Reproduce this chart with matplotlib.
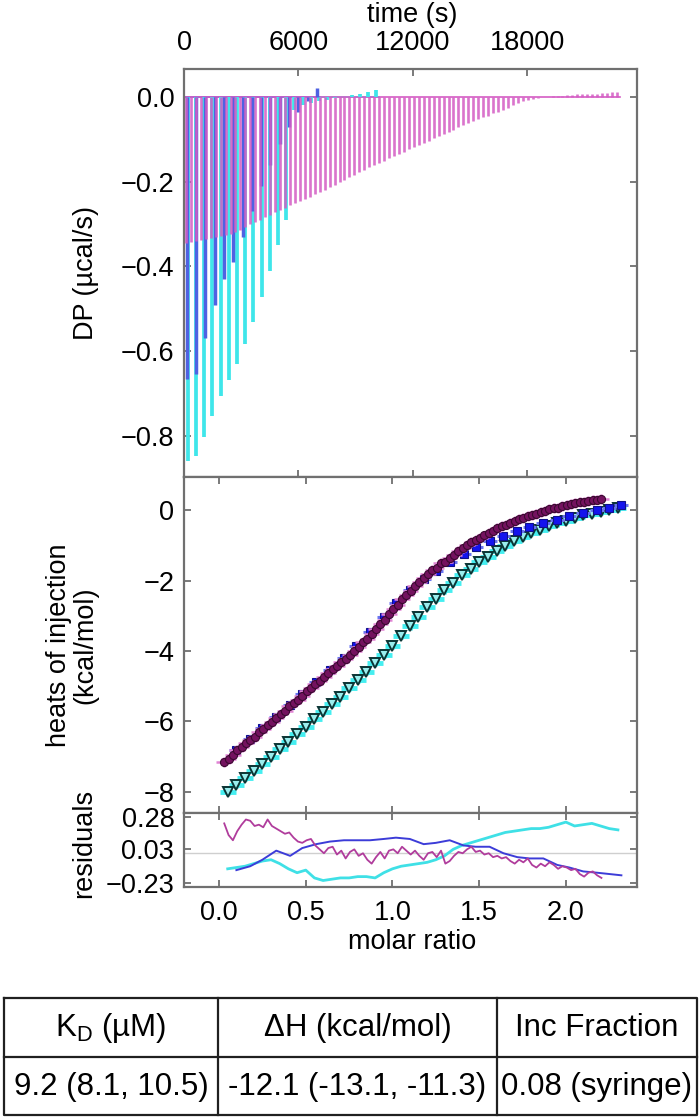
import matplotlib
matplotlib.use('Agg')
import matplotlib.pyplot as plt
import numpy as np

plt.rcParams['font.family'] = ['Liberation Sans', 'DejaVu Sans']
plt.rcParams['mathtext.fontset'] = 'custom'
plt.rcParams['mathtext.rm'] = 'Liberation Sans'
plt.rcParams['axes.unicode_minus'] = True

# ---------------- raw thermograms (time in s, DP in ucal/s) ----------------
mag_times = [100, 360, 620, 880, 1140, 1400, 1660, 1920, 2180, 2440, 2700, 2960, 3220, 3480,
             3740, 4000, 4260, 4520, 4780, 5040, 5300, 5560, 5820, 6080, 6340, 6600, 6860,
             7120, 7380, 7640, 7900, 8160, 8420, 8680, 8940, 9200, 9460, 9720, 9980, 10240,
             10500, 10760, 11020, 11280, 11540, 11800, 12060, 12320, 12580, 12840, 13100,
             13360, 13620, 13880, 14140, 14400, 14660, 14920, 15180, 15440, 15700, 15960,
             16220, 16480, 16740, 17000, 17260, 17520, 17780, 18040, 18300, 18560, 18820,
             19080, 19340, 19600, 19860, 20120, 20380, 20640, 20900, 21160, 21420, 21680,
             21940, 22200, 22460, 22720]
mag_dp = [-0.345, -0.343, -0.340, -0.338, -0.335, -0.333, -0.330, -0.328, -0.326, -0.324,
          -0.318, -0.313, -0.307, -0.301, -0.296, -0.290, -0.284, -0.278, -0.272, -0.267,
          -0.261, -0.255, -0.250, -0.245, -0.240, -0.235, -0.230, -0.225, -0.219, -0.213,
          -0.207, -0.201, -0.195, -0.190, -0.184, -0.178, -0.172, -0.166, -0.161, -0.155,
          -0.150, -0.145, -0.140, -0.134, -0.129, -0.124, -0.119, -0.113, -0.108, -0.103,
          -0.098, -0.093, -0.088, -0.083, -0.077, -0.072, -0.067, -0.062, -0.057, -0.053,
          -0.048, -0.044, -0.039, -0.035, -0.030, -0.025, -0.020, -0.014, -0.010, -0.007,
          -0.005, -0.003, -0.001, 0.000, 0.002, 0.003, 0.003, 0.004, 0.005, 0.006, 0.006,
          0.007, 0.007, 0.008, 0.009, 0.010, 0.011, 0.012]

blue_times = [150, 637, 1124, 1611, 2098, 2585, 3072, 3559, 4046, 4533, 5020, 5507, 5994,
              6481, 6968]
blue_dp = [-0.665, -0.655, -0.570, -0.490, -0.430, -0.390, -0.330, -0.270, -0.210, -0.160,
           -0.110, -0.070, -0.035, -0.010, 0.020]

cyan_times = [200, 630, 1060, 1490, 1920, 2350, 2780, 3210, 3640, 4070, 4500, 4930, 5360,
              5790, 6220, 6650, 7080, 7510, 7940, 8370, 8800, 9230, 9660, 10090]
cyan_dp = [-0.860, -0.848, -0.802, -0.752, -0.705, -0.668, -0.630, -0.582, -0.530, -0.472,
           -0.410, -0.350, -0.290, -0.030, -0.020, -0.014, -0.010, -0.006, -0.003, 0.000,
           0.004, 0.008, 0.012, 0.016]

# ---------------- integrated heats (molar ratio, kcal/mol) ----------------
mag_ratio = [0.030, 0.055, 0.080, 0.105, 0.130, 0.155, 0.180, 0.205, 0.230, 0.255, 0.280,
             0.305, 0.330, 0.355, 0.380, 0.405, 0.430, 0.455, 0.480, 0.505, 0.530, 0.555,
             0.580, 0.605, 0.630, 0.655, 0.680, 0.705, 0.730, 0.755, 0.780, 0.805, 0.830,
             0.855, 0.880, 0.905, 0.930, 0.955, 0.980, 1.005, 1.030, 1.055, 1.080, 1.105,
             1.130, 1.155, 1.180, 1.205, 1.230, 1.255, 1.280, 1.305, 1.330, 1.355, 1.380,
             1.405, 1.430, 1.455, 1.480, 1.505, 1.530, 1.555, 1.580, 1.605, 1.630, 1.655,
             1.680, 1.705, 1.730, 1.755, 1.780, 1.805, 1.830, 1.855, 1.880, 1.905, 1.930,
             1.955, 1.980, 2.005, 2.030, 2.055, 2.080, 2.105, 2.130, 2.155, 2.180, 2.205]
mag_heat = [-7.15, -7.08, -6.95, -6.82, -6.72, -6.61, -6.52, -6.43, -6.31, -6.22, -6.09,
            -6.01, -5.90, -5.80, -5.69, -5.57, -5.48, -5.38, -5.27, -5.14, -5.04, -4.95,
            -4.84, -4.74, -4.62, -4.51, -4.43, -4.30, -4.22, -4.10, -3.99, -3.89, -3.75,
            -3.65, -3.52, -3.37, -3.23, -3.11, -2.95, -2.81, -2.69, -2.53, -2.40, -2.29,
            -2.15, -2.05, -1.94, -1.80, -1.70, -1.63, -1.51, -1.46, -1.37, -1.27, -1.16,
            -1.09, -1.00, -0.91, -0.85, -0.78, -0.72, -0.65, -0.59, -0.52, -0.46, -0.41,
            -0.36, -0.31, -0.26, -0.22, -0.17, -0.14, -0.11, -0.06, -0.03, 0.02, 0.05,
            0.07, 0.11, 0.15, 0.17, 0.20, 0.22, 0.23, 0.26, 0.28, 0.30, 0.32]

blue_ratio = [0.10, 0.18, 0.25, 0.33, 0.41, 0.48, 0.56, 0.64, 0.72, 0.79, 0.87, 0.95, 1.02,
              1.10, 1.18, 1.25, 1.33, 1.41, 1.48, 1.56, 1.64, 1.72, 1.79, 1.87, 1.95, 2.02,
              2.10, 2.18, 2.25, 2.32]
blue_heat = [-6.82, -6.50, -6.20, -5.87, -5.52, -5.22, -4.89, -4.55, -4.20, -3.85, -3.45,
             -3.03, -2.65, -2.27, -1.95, -1.72, -1.48, -1.25, -1.05, -0.88, -0.74, -0.60,
             -0.48, -0.37, -0.27, -0.18, -0.08, 0.00, 0.07, 0.14]

cyan_ratio = [0.05, 0.10, 0.15, 0.20, 0.25, 0.30, 0.35, 0.40, 0.45, 0.50, 0.55, 0.60, 0.65,
              0.70, 0.75, 0.80, 0.85, 0.90, 0.95, 1.00, 1.05, 1.10, 1.15, 1.20, 1.25, 1.30,
              1.35, 1.40, 1.45, 1.50, 1.55, 1.60, 1.65, 1.70, 1.75, 1.80, 1.85, 1.90, 1.95,
              2.00, 2.05, 2.10, 2.15, 2.20, 2.25, 2.30]
cyan_heat = [-8.00, -7.80, -7.60, -7.40, -7.20, -7.00, -6.79, -6.58, -6.36, -6.15, -5.94,
             -5.73, -5.51, -5.30, -5.06, -4.83, -4.59, -4.35, -4.10, -3.85, -3.58, -3.30,
             -3.03, -2.75, -2.52, -2.28, -2.07, -1.85, -1.67, -1.48, -1.32, -1.15, -1.02,
             -0.88, -0.77, -0.65, -0.56, -0.46, -0.38, -0.30, -0.22, -0.15, -0.10, -0.04,
             0.01, 0.05]

# ---------------- residuals ----------------
mag_resid = [0.23, 0.14, 0.10, 0.17, 0.22, 0.26, 0.25, 0.21, 0.22, 0.20, 0.26, 0.21, 0.19,
             0.17, 0.15, 0.16, 0.12, 0.09, 0.08, 0.10, 0.11, 0.06, 0.03, 0.00, 0.04, 0.05,
             -0.01, 0.02, -0.04, 0.01, 0.03, -0.02, 0.00, -0.05, -0.08, -0.03, 0.01, -0.04,
             0.02, 0.03, 0.00, 0.05, 0.02, -0.01, 0.02, -0.02, -0.05, 0.00, 0.01, -0.03,
             0.02, -0.08, -0.06, -0.02, 0.01, 0.00, 0.03, 0.05, 0.01, 0.02, -0.01, 0.00,
             -0.03, -0.02, -0.04, -0.03, -0.06, -0.08, -0.05, -0.07, -0.04, -0.09, -0.11,
             -0.08, -0.10, -0.07, -0.09, -0.12, -0.10, -0.11, -0.13, -0.12, -0.16, -0.18,
             -0.15, -0.14, -0.17, -0.19]
blue_resid = [-0.13, -0.10, -0.05, 0.02, -0.02, 0.04, 0.07, 0.09, 0.10, 0.10, 0.10, 0.11,
              0.12, 0.11, 0.07, 0.08, 0.10, 0.06, 0.05, 0.05, 0.00, -0.03, -0.04, -0.04,
              -0.09, -0.11, -0.14, -0.15, -0.16, -0.17]
cyan_resid = [-0.12, -0.11, -0.10, -0.08, -0.06, -0.05, -0.08, -0.12, -0.15, -0.13, -0.19,
              -0.21, -0.20, -0.19, -0.19, -0.18, -0.18, -0.19, -0.15, -0.12, -0.10, -0.09,
              -0.08, -0.07, -0.05, -0.02, 0.03, 0.06, 0.08, 0.10, 0.12, 0.14, 0.16, 0.17,
              0.18, 0.19, 0.19, 0.20, 0.22, 0.24, 0.21, 0.22, 0.23, 0.21, 0.19, 0.18]

# ---------------- ticks / labels / table ----------------
time_ticks = [0, 6000, 12000, 18000]
dp_ticks = [0.0, -0.2, -0.4, -0.6, -0.8]
ratio_ticks = [0.0, 0.5, 1.0, 1.5, 2.0]
heat_ticks = [0, -2, -4, -6, -8]
resid_ticks = [0.28, 0.03, -0.23]
table_headers = ['K$_\\mathregular{D}$ (µM)', 'ΔH (kcal/mol)', 'Inc Fraction']
table_values = ['9.2 (8.1, 10.5)', '-12.1 (-13.1, -11.3)', '0.08 (syringe)']

# ---------------- figure ----------------
W, H = 700, 1119
fig = plt.figure(figsize=(7.0, 11.19), dpi=100)
FS = 19.5
SPC = '#707070'

def fr(x0, y0, x1, y1):
    return [x0 / W, 1 - y1 / H, (x1 - x0) / W, (y1 - y0) / H]

ax1 = fig.add_axes(fr(184, 69, 637, 477))
ax2 = fig.add_axes(fr(184, 477, 637, 813))
ax3 = fig.add_axes(fr(184, 813, 637, 887))

for ax in (ax1, ax2, ax3):
    for s in ax.spines.values():
        s.set_color(SPC)
        s.set_linewidth(1.6)
    ax.tick_params(direction='in', length=5, width=1.3, color=SPC, labelsize=FS,
                   top=True, right=True, labelcolor='black')

# top panel: thermograms
c_cyan = '#3fe6ea'
c_blue = '#4f62e2'
c_mag = '#d45cc4'
ax1.plot([0, cyan_times[-1] + 150], [0, 0], color=c_cyan, lw=1.2)
ax1.plot([0, blue_times[-1] + 150], [0, 0], color=c_blue, lw=1.2)
ax1.plot([0, mag_times[-1] + 150], [0, 0], color=c_mag, lw=1.2)
ax1.vlines(cyan_times, cyan_dp, 0, colors=c_cyan, lw=2.7)
ax1.vlines(blue_times, blue_dp, 0, colors=c_blue, lw=2.5)
ax1.vlines(mag_times, mag_dp, 0, colors=c_mag, lw=1.9, alpha=0.85)
ax1.set_xlim(0, 23770)
ax1.set_ylim(-0.897, 0.066)
ax1.set_xticks(time_ticks)
ax1.set_yticks(dp_ticks)
ax1.set_yticklabels(['0.0' if v == 0 else '\u2212%.1f' % abs(v) for v in dp_ticks])
ax1.tick_params(axis='x', labeltop=True, labelbottom=False, pad=9)
ax1.tick_params(axis='y', pad=7)

# middle panel: integrated heats
ax2.errorbar(cyan_ratio, cyan_heat, xerr=0.045, yerr=0.09, fmt='v', ms=6.5,
             mfc='#9aeeee', mec='#0a3434', mew=1.4, ecolor='#45eef0', elinewidth=3.5,
             capsize=0, zorder=2)
ax2.errorbar(blue_ratio, blue_heat, xerr=0.04, yerr=0.1, fmt='s', ms=6,
             mfc='#1414ee', mec='#10108a', mew=0.8, ecolor='#6a74f0', elinewidth=2.2,
             capsize=0, zorder=3)
ax2.errorbar(mag_ratio, mag_heat, xerr=0.045, yerr=0.14, fmt='o', ms=5.8,
             mfc='#74125f', mec='#3a0830', mew=0.8, ecolor='#e184d4', elinewidth=1.8,
             capsize=0, zorder=4)
ax2.set_xlim(-0.202, 2.41)
ax2.set_ylim(-8.6, 0.94)
ax2.set_xticks(ratio_ticks)
ax2.set_yticks(heat_ticks)
ax2.set_yticklabels(['0' if v == 0 else '\u2212%d' % abs(v) for v in heat_ticks])
ax2.tick_params(axis='x', labelbottom=False)
ax2.tick_params(axis='y', pad=7)

# residuals
ax3.axhline(0, color='#cfcfcf', lw=1.0, zorder=1)
ax3.plot(cyan_ratio, cyan_resid, color='#3fe0e6', lw=2.0, zorder=2)
ax3.plot(blue_ratio, blue_resid, color='#3c3cd8', lw=1.4, zorder=3)
ax3.plot(mag_ratio, mag_resid, color='#b03c9c', lw=1.3, zorder=4)
ax3.set_xlim(-0.202, 2.41)
ax3.set_ylim(-0.26, 0.31)
ax3.set_xticks(ratio_ticks)
ax3.set_xticklabels(['%.1f' % v for v in ratio_ticks])
ax3.set_yticks(resid_ticks)
ax3.set_yticklabels(['%.2f' % v if v >= 0 else '\u2212%.2f' % abs(v) for v in resid_ticks])
ax3.tick_params(axis='x', pad=9)
ax3.tick_params(axis='y', pad=7)

# axis labels
fig.text(412 / W, 1 - 15 / H, 'time (s)', ha='center', va='center', fontsize=FS)
fig.text(412 / W, 1 - 942 / H, 'molar ratio', ha='center', va='center', fontsize=FS)
fig.text(86 / W, 1 - 273 / H, 'DP (µcal/s)', ha='center', va='center', rotation=90, fontsize=FS)
fig.text(72 / W, 1 - 645 / H, 'heats of injection\n(kcal/mol)', ha='center', va='center',
         rotation=90, fontsize=FS, linespacing=1.0)
fig.text(84 / W, 1 - 843 / H, 'residuals', ha='center', va='center', rotation=90, fontsize=FS)

# table
tax = fig.add_axes([0, 0, 1, 1], zorder=-1)
tax.set_xlim(0, W)
tax.set_ylim(H, 0)
tax.axis('off')
tc = '#202020'
tlw = 1.6
tax.plot([4, 697, 697, 4, 4], [998, 998, 1115, 1115, 998], color=tc, lw=tlw)
tax.plot([4, 697], [1057, 1057], color=tc, lw=tlw)
tax.plot([218, 218], [998, 1115], color=tc, lw=tlw)
tax.plot([497, 497], [998, 1115], color=tc, lw=tlw)
col_centers = [111, 357.5, 597]
for cx, h, v in zip(col_centers, table_headers, table_values):
    tax.text(cx, 1028, h, ha='center', va='center', fontsize=22.5)
    tax.text(cx, 1087, v, ha='center', va='center', fontsize=22.5)

fig.savefig('out.png', dpi=100)
